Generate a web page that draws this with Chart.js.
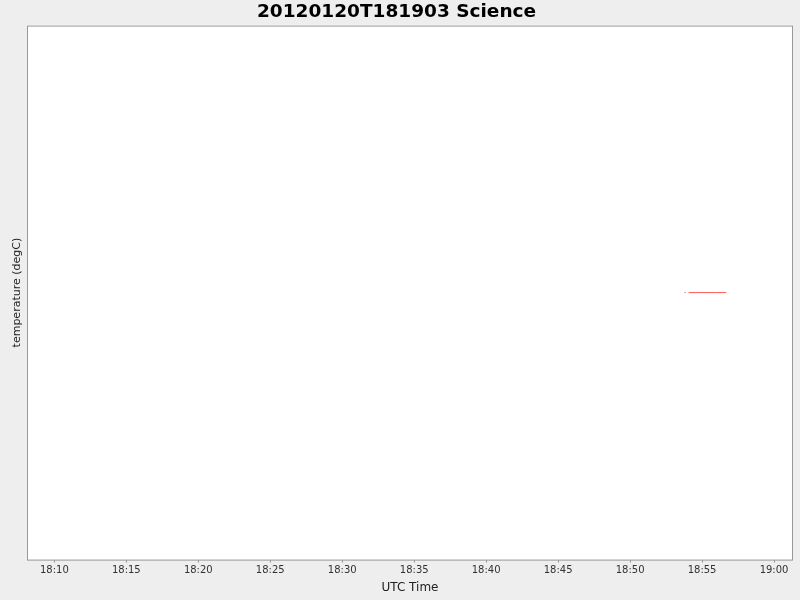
<!DOCTYPE html>
<html>
<head>
<meta charset="utf-8">
<script src="https://cdn.jsdelivr.net/npm/chart.js@4.4.1/dist/chart.umd.min.js"></script>
<style>
  html, body { margin: 0; padding: 0; background: #eeeeee; }
  #wrap { width: 800px; height: 600px; }
</style>
</head>
<body>
<div id="wrap"><canvas id="myChart" width="800" height="600"></canvas></div>
<script>
// data (times are UTC, hh:mm:ss)
const sampleTimes = ["18:53:47", "18:53:52", null, "18:54:04", "18:54:40", "18:55:20", "18:56:00", "18:56:41"];
const temperature = [8.5, 8.5, null, 8.5, 8.5, 8.5, 8.5, 8.5];
const tickLabels = ["18:10", "18:15", "18:20", "18:25", "18:30", "18:35", "18:40", "18:45", "18:50", "18:55", "19:00"];
const axisStart = "18:08:06";
const axisEnd = "19:01:19";

// hh:mm[:ss] -> seconds since midnight
function toSec(t) {
  const p = t.split(":").map(Number);
  return p[0] * 3600 + p[1] * 60 + (p[2] || 0);
}
function fmt(s) {
  const h = Math.floor(s / 3600);
  const m = Math.round((s % 3600) / 60);
  return String(h).padStart(2, "0") + ":" + String(m).padStart(2, "0");
}

const points = sampleTimes.map((t, i) =>
  t === null ? { x: null, y: null } : { x: toSec(t), y: temperature[i] }
);
const tickValues = tickLabels.map(toSec);
const level = temperature.find((v) => v !== null);

// white plot area with grey frame
const plotFrame = {
  id: "plotFrame",
  beforeDraw(chart) {
    const { ctx, chartArea: a } = chart;
    ctx.save();
    ctx.fillStyle = "#ffffff";
    ctx.fillRect(a.left, a.top, a.right - a.left, a.bottom - a.top);
    ctx.restore();
  },
  afterDraw(chart) {
    const { ctx, chartArea: a } = chart;
    ctx.save();
    ctx.strokeStyle = "#999999";
    ctx.lineWidth = 1;
    ctx.strokeRect(a.left + 0.5, a.top + 0.5, a.right - a.left - 1, a.bottom - a.top);
    ctx.restore();
  },
};

const ctx = document.getElementById("myChart").getContext("2d");
const myChart = new Chart(ctx, {
  type: "line",
  data: {
    datasets: [
      {
        label: "temperature",
        data: points,
        borderColor: "#ff5555",
        backgroundColor: "#ff5555",
        borderWidth: 1,
        pointRadius: 0,
        spanGaps: false,
        tension: 0,
      },
    ],
  },
  plugins: [plotFrame],
  options: {
    responsive: false,
    animation: false,
    layout: {
      padding: { left: 0, right: 7, top: 0, bottom: 5 },
    },
    scales: {
      x: {
        type: "linear",
        min: toSec(axisStart),
        max: toSec(axisEnd),
        afterBuildTicks(axis) {
          axis.ticks = tickValues.map((v) => ({ value: v }));
        },
        afterFit(axis) {
          axis.paddingLeft = 0;
          axis.paddingRight = 0;
        },
        ticks: {
          color: "#333333",
          padding: 2,
          maxRotation: 0,
          autoSkip: false,
          font: { family: "DejaVu Sans", size: 10 },
          callback: (v) => fmt(v),
        },
        grid: {
          drawOnChartArea: false,
          drawTicks: true,
          tickLength: 3,
          color: "#999999",
        },
        border: { display: false },
        title: {
          display: true,
          text: "UTC Time",
          color: "#222222",
          font: { family: "DejaVu Sans", size: 12 },
          padding: { top: 2, bottom: 0 },
        },
      },
      y: {
        min: level - 1,
        max: level + 1,
        ticks: { display: false },
        grid: { display: false, drawTicks: false },
        border: { display: false },
        title: {
          display: true,
          text: "temperature (degC)",
          color: "#222222",
          font: { family: "DejaVu Sans", size: 11 },
          padding: { top: 11, bottom: 2.8 },
        },
      },
    },
    plugins: {
      legend: { display: false },
      tooltip: { enabled: false },
      title: {
        display: true,
        text: "20120120T181903 Science",
        color: "#000000",
        font: { family: "DejaVu Sans", size: 18.5, weight: "bold" },
        padding: { top: 1, bottom: 2.4 },
      },
    },
  },
});
</script>
</body>
</html>
